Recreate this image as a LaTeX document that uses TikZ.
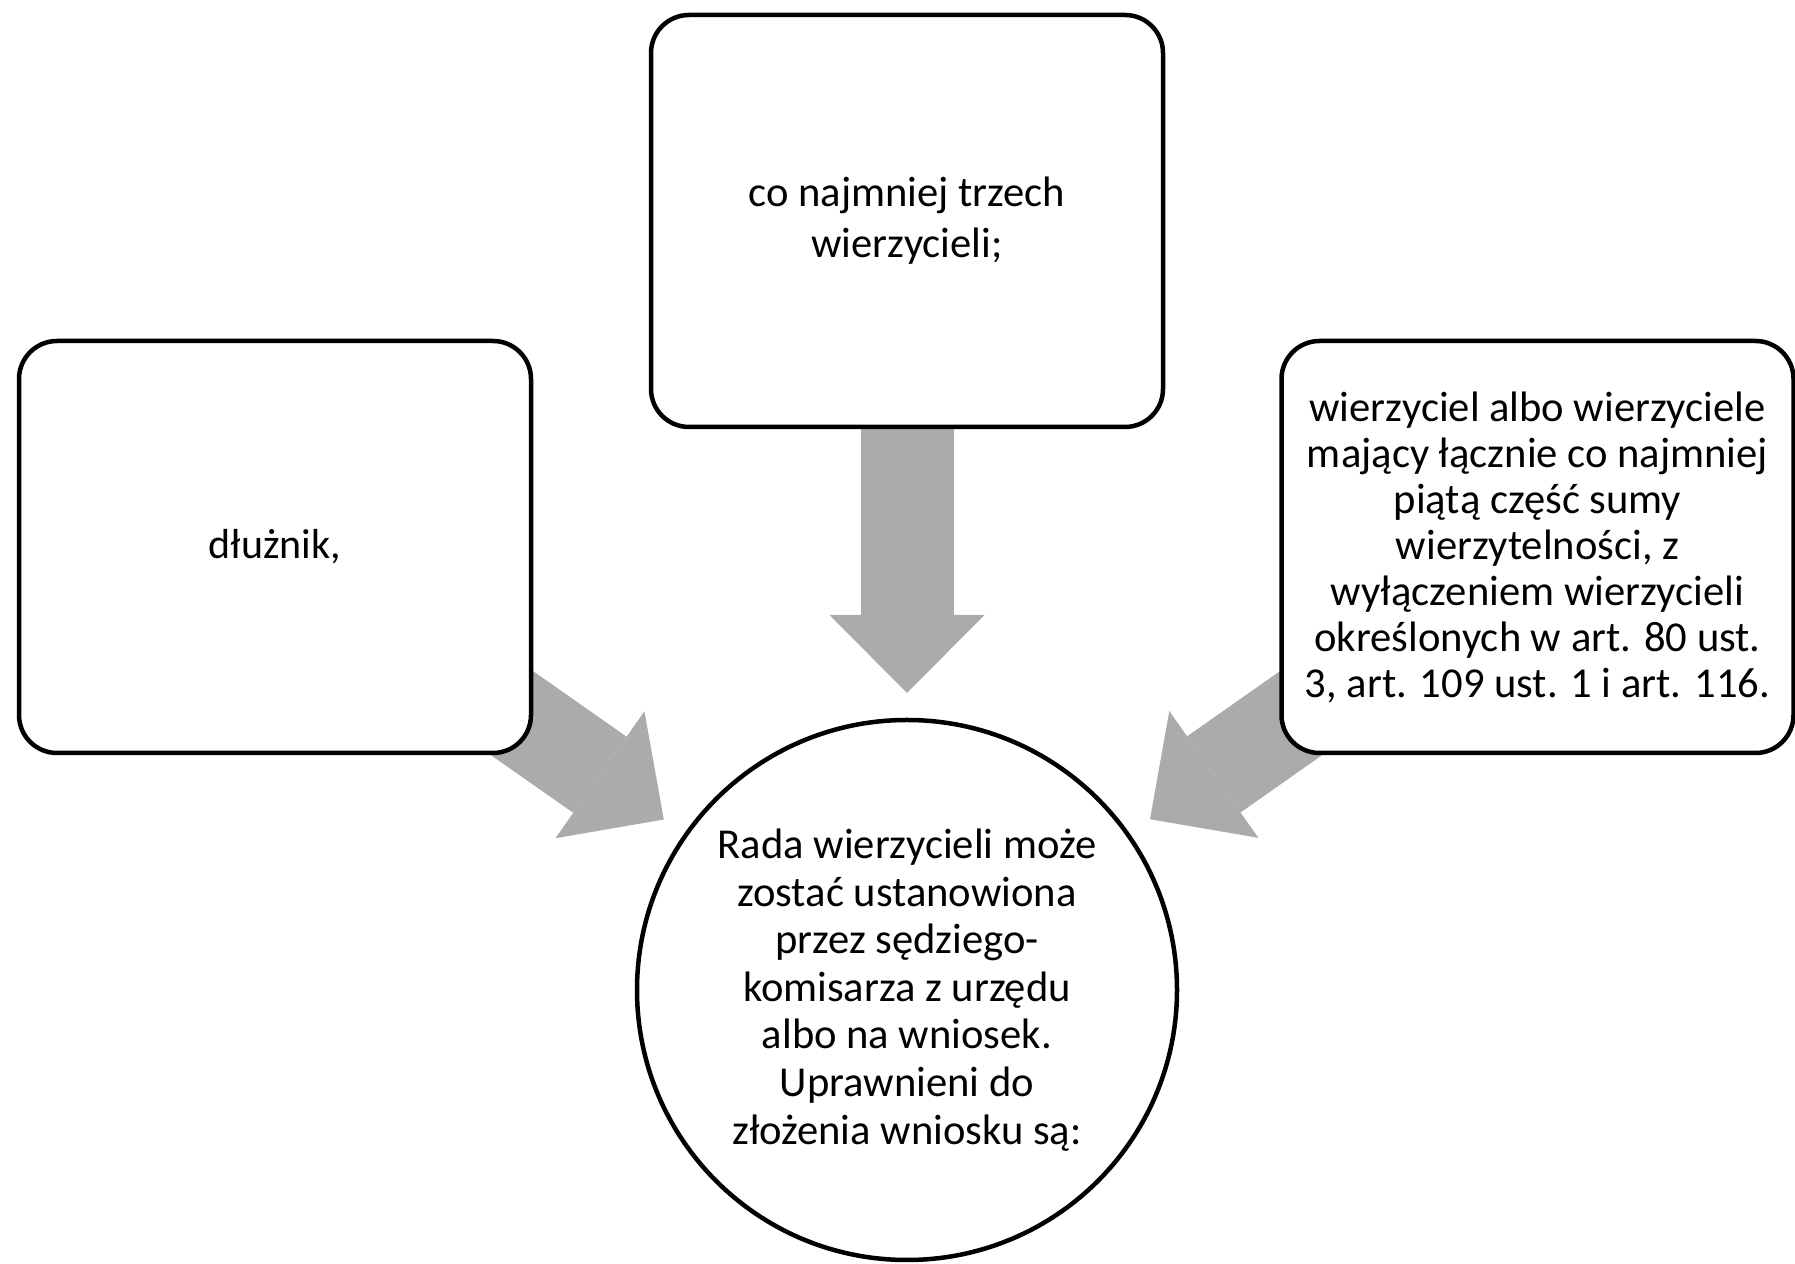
\documentclass[tikz,border=0pt]{standalone}
\usepackage{fontspec}
\setmainfont{Carlito}
\usetikzlibrary{arrows.meta, backgrounds}
\definecolor{arrowgray}{RGB}{171,171,171}
\tikzset{
    box/.style={rectangle, draw, line width=2.25pt, rounded corners=19pt, fill=white, align=center, minimum width=256pt, minimum height=206pt},
    hub/.style={circle, draw, line width=2.25pt, fill=white, align=center, minimum size=270pt, inner sep=0pt},
    fat/.style={arrowgray, line width=46.5pt, -{Triangle[width=77.5pt, length=39pt, line width=0pt]}, shorten >=148.5pt}
}
\begin{document}
\begin{tikzpicture}[x=0.5pt, y=0.5pt]
        \useasboundingbox (0,0) rectangle (1795,1264);

        % Centre circle
        \node (ctr) [hub, font=\fontsize{21.3}{23.8}\selectfont] at (907, 274) {Rada wierzycieli może\\zostać ustanowiona\\przez sędziego-\\komisarza z urzędu\\albo na wniosek.\\Uprawnieni do\\złożenia wniosku są:};

        % Boxes round it
        \node (trzech) [box, font=\fontsize{21.3}{25.5}\selectfont] at (907, 1043) {co najmniej trzech\\wierzycieli;};
        \node (dluznik) [box, font=\fontsize{21}{25}\selectfont] at (275, 717) {dłużnik,};
        \node (piata) [box, font=\fontsize{21.3}{23}\selectfont] at (1537.5, 717) {wierzyciel albo wierzyciele\\mający łącznie co najmniej\\piątą część sumy\\wierzytelności, z\\wyłączeniem wierzycieli\\określonych w art. 80 ust.\\3, art. 109 ust. 1 i art. 116.};

        % Grey arrows, behind the boxes
        \begin{pgfonlayer}{background}
            \foreach \b in {trzech, dluznik, piata}
                \draw[fat] (\b.center) -- (ctr.center);
        \end{pgfonlayer}

    \end{tikzpicture}
\end{document}
